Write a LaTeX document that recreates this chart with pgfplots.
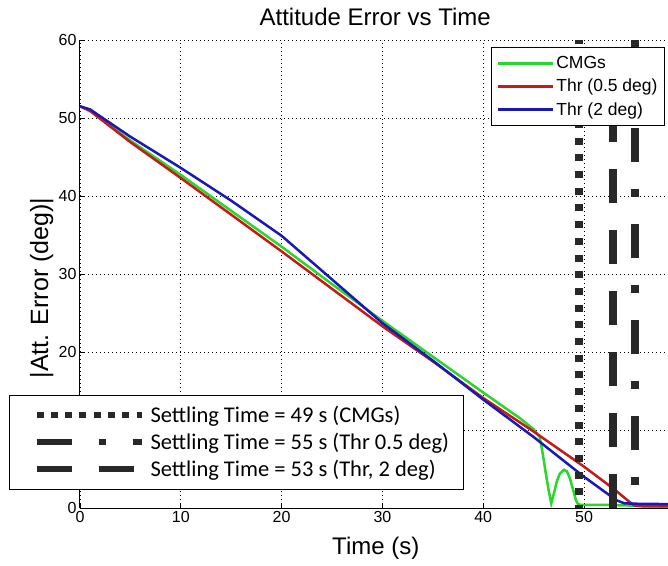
\documentclass[border=0pt]{standalone}
\usepackage{pgfplots}
\pgfplotsset{compat=1.18}
\usepackage{fontspec}
\setmainfont{Liberation Sans}
\newfontfamily\calib{Carlito}
\definecolor{cgreen}{RGB}{40,215,40}
\definecolor{cred}{RGB}{200,25,25}
\definecolor{cblue}{RGB}{25,25,185}
\definecolor{cdark}{RGB}{40,40,40}
\begin{document}
\begin{tikzpicture}
\begin{axis}[
  scale only axis, width=588pt, height=468pt,
  xmin=0, xmax=58.33, ymin=0, ymax=60,
  xtick={0,10,...,50}, ytick={0,10,...,60},
  axis x line*=bottom, axis y line*=left,
  grid=major, grid style={black, line width=0.7pt, dash pattern=on 0.8pt off 3.2pt},
  tick align=inside, major tick length=5pt,
  tick style={black, line width=0.8pt},
  axis line style={black, line width=1pt},
  ticklabel style={font=\fontsize{16}{18}\selectfont},
  /pgf/number format/assume math mode=true,
  title={Attitude Error vs Time},
  title style={at={(axis description cs:0.502,1.037)}, anchor=center, font=\fontsize{24}{27}\selectfont},
  xlabel={Time (s)},
  xlabel style={at={(axis description cs:0.503,-0.085)}, anchor=center, font=\fontsize{24}{28}\selectfont},
  ylabel={|Att. Error (deg)|},
  ylabel style={at={(axis description cs:-0.065,0.47)}, anchor=center, font=\fontsize{25}{28}\selectfont},
  legend style={at={(axis description cs:0.9949,0.985)}, anchor=north east,
    font=\fontsize{17.5}{20}\selectfont, draw=black, line width=1pt,
    inner xsep=5pt, inner ysep=7pt, row sep=5pt, nodes={inner sep=2pt}},
  legend cell align=left,
  legend image code/.code={\draw[#1, line cap=butt] (0pt,0pt) -- (55pt,0pt);},
]
\addplot[cgreen, line width=2.5pt] coordinates {
(0,51.5) (1,51.0) (5,47.1) (10,42.7) (15,38.1) (20,33.5) (25,28.7)
(30,24.0) (35,19.4) (40,14.8) (43.65,11.5) (45.0,10.1) (45.6,9.1) (45.9,7.0)
(46.2,4.5) (46.5,2.2) (46.75,0.6) (47.0,1.8) (47.3,3.4) (47.6,4.4) (48.0,4.9)
(48.3,4.7) (48.6,3.8) (48.9,2.4) (49.2,1.0) (49.4,0.5) (49.7,0.4) (52,0.4)
(55,0.3) (58.33,0.2)};
\addlegendentry{CMGs}
\addplot[cred, line width=2.5pt] coordinates {
(0,51.5) (1,50.9) (5,46.9) (10,42.3) (15,37.6) (20,32.9) (25,28.1)
(30,23.3) (35,18.8) (40,14.1) (45,9.8) (50,5.3) (53,2.4) (54.3,1.0)
(55,0.3) (56,0.2) (58.33,0.2)};
\addlegendentry{Thr (0.5 deg)}
\addplot[cblue, line width=2.5pt] coordinates {
(0,51.5) (1,51.1) (5,47.6) (10,43.6) (15,39.4) (20,34.9) (25,29.3)
(30,23.7) (35,18.9) (40,13.9) (45,9.1) (50,4.0) (53.2,1.0)
(54,0.6) (55,0.55) (58.33,0.5)};
\addlegendentry{Thr (2 deg)}
\addplot[cdark, line width=8pt, line cap=butt, dash pattern=on 7pt off 9.7pt, dash phase=4pt, forget plot]
  coordinates {(49.5,0) (49.5,60)};
\addplot[cdark, line width=8pt, line cap=butt, dash pattern=on 34pt off 27pt, forget plot]
  coordinates {(52.9,0) (52.9,60)};
\addplot[cdark, line width=8pt, line cap=butt, dash pattern=on 34pt off 27pt on 8pt off 27pt, dash phase=38pt, forget plot]
  coordinates {(55.1,0) (55.1,60)};
\end{axis}
\begin{axis}[
  scale only axis, width=588pt, height=468pt,
  xmin=0, xmax=58.33, ymin=0, ymax=60, hide axis,
  legend style={at={(axis description cs:-0.1207,0.2415)}, anchor=north west,
    font=\calib\fontsize{22.5}{26}\selectfont, draw=black, line width=1pt,
    inner xsep=12pt, inner ysep=9pt, row sep=5pt},
  legend cell align=left,
]
\addlegendimage{legend image code/.code={\path[draw=none] (0pt,0pt) -- (127pt,0pt);
  \draw[cdark, line width=6pt, line cap=butt, dash pattern=on 7pt off 7.3pt] (15pt,0pt) -- (120pt,0pt);}}
\addlegendentry{Settling Time = 49 s (CMGs)}
\addlegendimage{legend image code/.code={\path[draw=none] (0pt,0pt) -- (127pt,0pt);
  \draw[cdark, line width=6pt, line cap=butt, dash pattern=on 35pt off 27pt on 7pt off 27pt] (15pt,0pt) -- (120pt,0pt);}}
\addlegendentry{Settling Time = 55 s (Thr 0.5 deg)}
\addlegendimage{legend image code/.code={\path[draw=none] (0pt,0pt) -- (127pt,0pt);
  \draw[cdark, line width=6pt, line cap=butt, dash pattern=on 35pt off 27pt] (15pt,0pt) -- (120pt,0pt);}}
\addlegendentry{Settling Time = 53 s (Thr, 2 deg)}
\end{axis}
\pgfresetboundingbox
\path[use as bounding box] (-80pt,-57pt) rectangle (588pt,508pt);
\end{tikzpicture}
\end{document}
